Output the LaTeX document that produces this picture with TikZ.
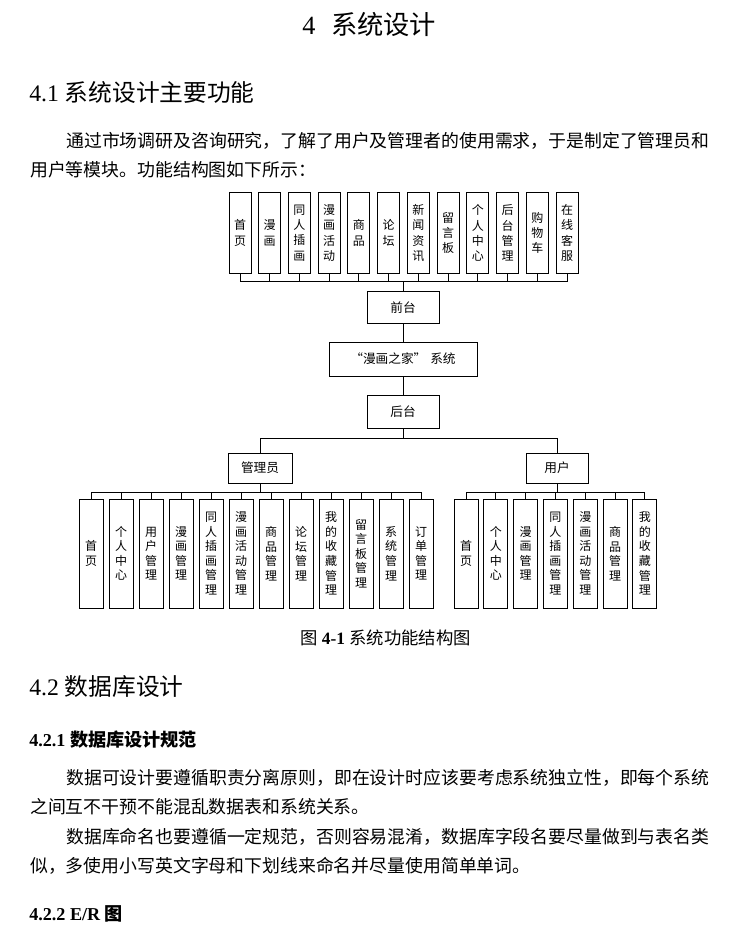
\documentclass[tikz,border=0pt]{standalone}
\usepackage{fontspec}
\setmainfont{Liberation Serif}
\newfontfamily\cjk{Noto Sans CJK SC}
\usepackage{tikz}
\usetikzlibrary{positioning}

\begin{document}
\begin{tikzpicture}[x=0.75pt, y=-0.75pt,
  topbox/.style={
    rectangle, draw=black, line width=0.75pt, inner sep=0pt,
    minimum width=16.5pt, minimum height=60.75pt, align=center,
    font=\cjk\fontsize{9}{11.4}\selectfont
  },
  subbox/.style={
    rectangle, draw=black, line width=0.75pt, inner sep=0pt,
    minimum width=18pt, minimum height=81.75pt, align=center,
    font=\cjk\fontsize{9}{10.9}\selectfont
  },
  mainbox/.style={
    rectangle, draw=black, line width=0.75pt, inner sep=0pt,
    minimum width=54pt, minimum height=24pt, align=center,
    font=\cjk\fontsize{9.5}{11}\selectfont
  },
  link/.style={
    line width=0.75pt, color=black
  },
  heading/.style={
    anchor=west, inner sep=0pt, font=\fontsize{17.8}{20}\selectfont
  },
  subheading/.style={
    anchor=west, inner sep=0pt, font=\bfseries\fontsize{13.6}{16}\selectfont
  },
  bodyline/.style={
    anchor=west, inner sep=0pt, font=\cjk\fontsize{13.4}{16}\selectfont
  }
]
\fill[white] (0,0) rectangle (745,946);
\useasboundingbox (0,0) rectangle (745,946);

% Page text
\node[anchor=west, inner sep=0pt, font=\fontsize{19.7}{22}\selectfont] (title) at (302,25)
  {4\hspace{0.6em}{\cjk 系统设计}};
\node[heading] (sec1) at (29,92) {4.1 {\cjk 系统设计主要功能}};
\node[bodyline] (p1a) at (66,141) {通过市场调研及咨询研究，了解了用户及管理者的使用需求，于是制定了管理员和};
\node[bodyline] (p1b) at (30,170) {用户等模块。功能结构图如下所示：};

% Main nodes
\node[mainbox] (front) at (403,307.5) {前台};
\node[mainbox, minimum width=111pt, minimum height=25.5pt] (sys) at (403,359)
  {“漫画之家”\hspace{3pt}系统};
\node[mainbox, minimum height=24.75pt] (back) at (403,411.5) {后台};
\node[mainbox, minimum width=48pt, minimum height=22.5pt] (admin) at (260,468) {管理员};
\node[mainbox, minimum width=46.5pt, minimum height=22.5pt] (user) at (557,468) {用户};

% Front modules
\node[topbox] (f1) at (240,233) {首\\页};
\node[topbox, right=5.05pt of f1] (f2) {漫\\画};
\node[topbox, right=5.05pt of f2] (f3) {同\\人\\插\\画};
\node[topbox, right=5.05pt of f3] (f4) {漫\\画\\活\\动};
\node[topbox, right=5.05pt of f4] (f5) {商\\品};
\node[topbox, right=5.05pt of f5] (f6) {论\\坛};
\node[topbox, right=5.05pt of f6] (f7) {新\\闻\\资\\讯};
\node[topbox, right=5.05pt of f7] (f8) {留\\言\\板};
\node[topbox, right=5.05pt of f8] (f9) {个\\人\\中\\心};
\node[topbox, right=5.05pt of f9] (f10) {后\\台\\管\\理};
\node[topbox, right=5.05pt of f10] (f11) {购\\物\\车};
\node[topbox, right=5.05pt of f11] (f12) {在\\线\\客\\服};

% Admin modules
\node[subbox] (a1) at (91,553.5) {首\\页};
\node[subbox, right=3.75pt of a1] (a2) {个\\人\\中\\心};
\node[subbox, right=3.75pt of a2] (a3) {用\\户\\管\\理};
\node[subbox, right=3.75pt of a3] (a4) {漫\\画\\管\\理};
\node[subbox, right=3.75pt of a4] (a5) {同\\人\\插\\画\\管\\理};
\node[subbox, right=3.75pt of a5] (a6) {漫\\画\\活\\动\\管\\理};
\node[subbox, right=3.75pt of a6] (a7) {商\\品\\管\\理};
\node[subbox, right=3.75pt of a7] (a8) {论\\坛\\管\\理};
\node[subbox, right=3.75pt of a8] (a9) {我\\的\\收\\藏\\管\\理};
\node[subbox, right=3.75pt of a9] (a10) {留\\言\\板\\管\\理};
\node[subbox, right=3.75pt of a10] (a11) {系\\统\\管\\理};
\node[subbox, right=3.75pt of a11] (a12) {订\\单\\管\\理};

% User modules
\node[subbox] (u1) at (466,553.5) {首\\页};
\node[subbox, right=3.62pt of u1] (u2) {个\\人\\中\\心};
\node[subbox, right=3.62pt of u2] (u3) {漫\\画\\管\\理};
\node[subbox, right=3.62pt of u3] (u4) {同\\人\\插\\画\\管\\理};
\node[subbox, right=3.62pt of u4] (u5) {漫\\画\\活\\动\\管\\理};
\node[subbox, right=3.62pt of u5] (u6) {商\\品\\管\\理};
\node[subbox, right=3.62pt of u6] (u7) {我\\的\\收\\藏\\管\\理};

% Edges
\foreach \i in {1,...,12}
  \draw[link] (front.north) -- ++(0,-10) -| (f\i.south);
\draw[link] (front) -- (sys);
\draw[link] (sys) -- (back);
\draw[link] (back.south) -- ++(0,10) -| (admin.north);
\draw[link] (back.south) -- ++(0,10) -| (user.north);
\foreach \i in {1,...,12}
  \draw[link] (admin.south) -- ++(0,9) -| (a\i.north);
\foreach \i in {1,...,7}
  \draw[link] (user.south) -- ++(0,9) -| (u\i.north);

% Caption and following text
\node[anchor=west, inner sep=0pt, font=\fontsize{13}{15}\selectfont] (cap) at (300,638)
  {{\cjk 图} \textbf{4-1} {\cjk 系统功能结构图}};
\node[heading] (sec2) at (29,687) {4.2 {\cjk 数据库设计}};
\node[subheading] (sec21) at (29,740) {4.2.1 {\cjk\bfseries 数据库设计规范}};
\node[bodyline] (p2a) at (66,778) {数据可设计要遵循职责分离原则，即在设计时应该要考虑系统独立性，即每个系统};
\node[bodyline] (p2b) at (30,807) {之间互不干预不能混乱数据表和系统关系。};
\node[bodyline] (p2c) at (66,837) {数据库命名也要遵循一定规范，否则容易混淆，数据库字段名要尽量做到与表名类};
\node[bodyline] (p2d) at (30,866) {似，多使用小写英文字母和下划线来命名并尽量使用简单单词。};
\node[subheading] (sec22) at (29,914) {4.2.2 E/R {\cjk\bfseries 图}};

\end{tikzpicture}
\end{document}
